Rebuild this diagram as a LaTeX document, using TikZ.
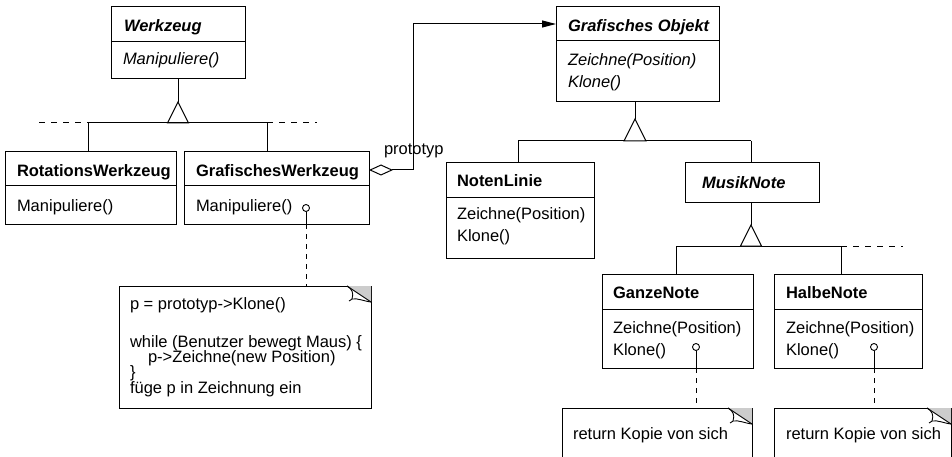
\documentclass[tikz,border=0pt]{standalone}
\usepackage{fontspec}
\setmainfont{Liberation Sans}
\usetikzlibrary{arrows.meta,calc}

\definecolor{foldgrey}{HTML}{CCCCCC}

% folded top-right corner of a note node
\newcommand{\dogear}[1]{%
  \fill[foldgrey] ($(#1.north east)+(-24,0)$) -- (#1.north east) -- ($(#1.north east)+(0,16)$) -- cycle;
  \draw[thin line] ($(#1.north east)+(-24,0)$) -- ($(#1.north east)+(0,16)$);
  \draw[thin line] ($(#1.north east)+(-24,0)$) .. controls +(5,3) and +(2,-6) .. ($(#1.north east)+(-19,13)$)
     .. controls +(-2,0) and +(1,1) .. ($(#1.north east)+(-22,15)$);
  \draw[thin line] ($(#1.north east)+(-19,13)$) .. controls +(6,-1) and +(-8,-1) .. ($(#1.north east)+(0,16)$);
}

\tikzset{
  thin line/.style={line width=0.9pt},
  classbox/.style={draw, line width=1pt, fill=white, rectangle, inner sep=0pt, outer sep=0pt, anchor=north west},
  notebox/.style={draw, line width=1pt, fill=white, rectangle, inner sep=0pt, outer sep=0pt, anchor=north west},
  txt/.style={anchor=base west, inner sep=0pt, outer sep=0pt},
  conn/.style={line width=1pt},
  hierdash/.style={line width=1pt, dash pattern=on 6pt off 6pt},
  notedash/.style={line width=1pt, dash pattern=on 5pt off 5pt},
  gen/.style={line width=1pt, fill=white, line join=miter},
}

\begin{document}
\begin{tikzpicture}[x=1pt,y=-1pt,font=\fontsize{16.5}{20}\selectfont]
\useasboundingbox (0,0) rectangle (952,457);
\fill[white] (0,0) rectangle (952,457);
\clip (0,0) rectangle (952,457);

% ---------- class boxes ----------
\node[classbox, minimum width=134pt, minimum height=72pt] (werk) at (111,7) {};
\draw[conn] (111,42) -- (245,42);
\node[txt] (werkT) at (124,32) {\bfseries\itshape Werkzeug};
\node[txt] (werkM) at (123,65) {\itshape Manipuliere()};

\node[classbox, minimum width=171pt, minimum height=72pt] (rot) at (5,152) {};
\draw[conn] (5,185) -- (176,185);
\node[txt] (rotT) at (17,176) {\bfseries RotationsWerkzeug};
\node[txt] (rotM) at (17,211) {Manipuliere()};

\node[classbox, minimum width=185pt, minimum height=72pt] (gw) at (184,152) {};
\draw[conn] (184,185) -- (369,185);
\node[txt] (gwT) at (196,176) {\bfseries GrafischesWerkzeug};
\node[txt] (gwM) at (196,211) {Manipuliere()};

\node[classbox, minimum width=163pt, minimum height=95pt] (go) at (556,7) {};
\draw[conn] (556,41) -- (719,41);
\node[txt] (goT) at (568,32) {\bfseries\itshape Grafisches Objekt};
\node[txt] (goZ) at (568,65.5) {\itshape Zeichne(Position)};
\node[txt] (goK) at (568,87.5) {\itshape Klone()};

\node[classbox, minimum width=148pt, minimum height=95pt] (nl) at (446,163) {};
\draw[conn] (446,197) -- (594,197);
\node[txt] (nlT) at (457,186) {\bfseries NotenLinie};
\node[txt] (nlZ) at (457,219) {Zeichne(Position)};
\node[txt] (nlK) at (457,241) {Klone()};

\node[classbox, minimum width=134pt, minimum height=39pt] (mn) at (685,163) {};
\node[txt] (mnT) at (702,189) {\bfseries\itshape MusikNote};

\node[classbox, minimum width=151pt, minimum height=94pt] (gn) at (602,274) {};
\draw[conn] (602,309) -- (753,309);
\node[txt] (gnT) at (613,298) {\bfseries GanzeNote};
\node[txt] (gnZ) at (613,333) {Zeichne(Position)};
\node[txt] (gnK) at (613,355) {Klone()};

\node[classbox, minimum width=148pt, minimum height=94pt] (hn) at (774,274) {};
\draw[conn] (774,309) -- (922,309);
\node[txt] (hnT) at (786,298) {\bfseries HalbeNote};
\node[txt] (hnZ) at (786,333) {Zeichne(Position)};
\node[txt] (hnK) at (786,355) {Klone()};

% ---------- notes ----------
\node[notebox, minimum width=252pt, minimum height=122pt] (n1) at (119,286) {};
\dogear{n1}
\node[txt] at (130,309.5) {p = prototyp->Klone()};
\node[txt] at (130,347) {while (Benutzer bewegt Maus) \{};
\node[txt] at (148,362) {p->Zeichne(new Position)};
\node[txt] at (130,377.5) {\}};
\node[txt] at (130,393) {füge p in Zeichnung ein};

\node[notebox, minimum width=190pt, minimum height=70pt] (n2) at (562,408) {};
\dogear{n2}
\node[txt] at (573,439) {return Kopie von sich};

\node[notebox, minimum width=177pt, minimum height=70pt] (n3) at (774,408) {};
\dogear{n3}
\node[txt] at (786,439) {return Kopie von sich};

% ---------- generalisation: Werkzeug ----------
\coordinate (wApex) at (178,102);
\coordinate (wL) at (88,123);
\coordinate (wR) at (267,123);
\draw[conn] (werk.south -| wApex) -- (wApex);
\draw[gen] (wApex) -- (167.5,123) -- (188.5,123) -- cycle;
\draw[conn] (wL) -- (wR);
\draw[conn] (wL) -- (wL |- rot.north);
\draw[conn] (wR) -- (wR |- gw.north);
\draw[hierdash] (39,123) -- (wL);
\draw[hierdash] (wR) -- (317,123);

% ---------- generalisation: Grafisches Objekt ----------
\coordinate (gApex) at (635,119);
\coordinate (gL) at (518,141);
\coordinate (gR) at (751,141);
\draw[conn] (go.south -| gApex) -- (gApex);
\draw[conn] (gL) -- (gR);
\draw[gen] (gApex) -- (624,141) -- (646,141) -- cycle;
\draw[conn] (gL) -- (gL |- nl.north);
\draw[conn] (gR) -- (gR |- mn.north);

% ---------- generalisation: MusikNote ----------
\coordinate (mApex) at (751,225);
\coordinate (mL) at (676,246);
\coordinate (mR) at (841,246);
\draw[conn] (mn.south -| mApex) -- (mApex);
\draw[conn] (mL) -- (mR);
\draw[gen] (mApex) -- (740.5,246) -- (761.5,246) -- cycle;
\draw[conn] (mL) -- (mL |- gn.north);
\draw[conn] (mR) -- (mR |- hn.north);
\draw[hierdash] (mR) -- (903,246);

% ---------- aggregation "prototyp" ----------
\coordinate (pBend) at (413,170);
\coordinate (pTop) at (413,24);
\draw[conn, {Diamond[open, length=24pt, width=11pt, line width=1pt]}-{Triangle[length=14pt, width=7pt]}]
  (gw.east |- pBend) -- (pBend) -- (pTop) -- (go.west |- pTop);
\node[txt] (protoLbl) at (384,155) {prototyp};

% ---------- note anchors ----------
\coordinate (c1) at (306,208);
\draw[thin line] (c1) circle (3.5);
\draw[conn] ($(c1)+(0,3.5)$) -- (c1 |- gw.south);
\draw[notedash] (c1 |- gw.south) -- (c1 |- n1.north);

\coordinate (c2) at (696,347);
\draw[thin line] (c2) circle (3.5);
\draw[conn] ($(c2)+(0,3.5)$) -- (c2 |- gn.south);
\draw[notedash] (c2 |- gn.south) -- (c2 |- n2.north);

\coordinate (c3) at (874,347);
\draw[thin line] (c3) circle (3.5);
\draw[conn] ($(c3)+(0,3.5)$) -- (c3 |- hn.south);
\draw[notedash] (c3 |- hn.south) -- (c3 |- n3.north);
\end{tikzpicture}
\end{document}
